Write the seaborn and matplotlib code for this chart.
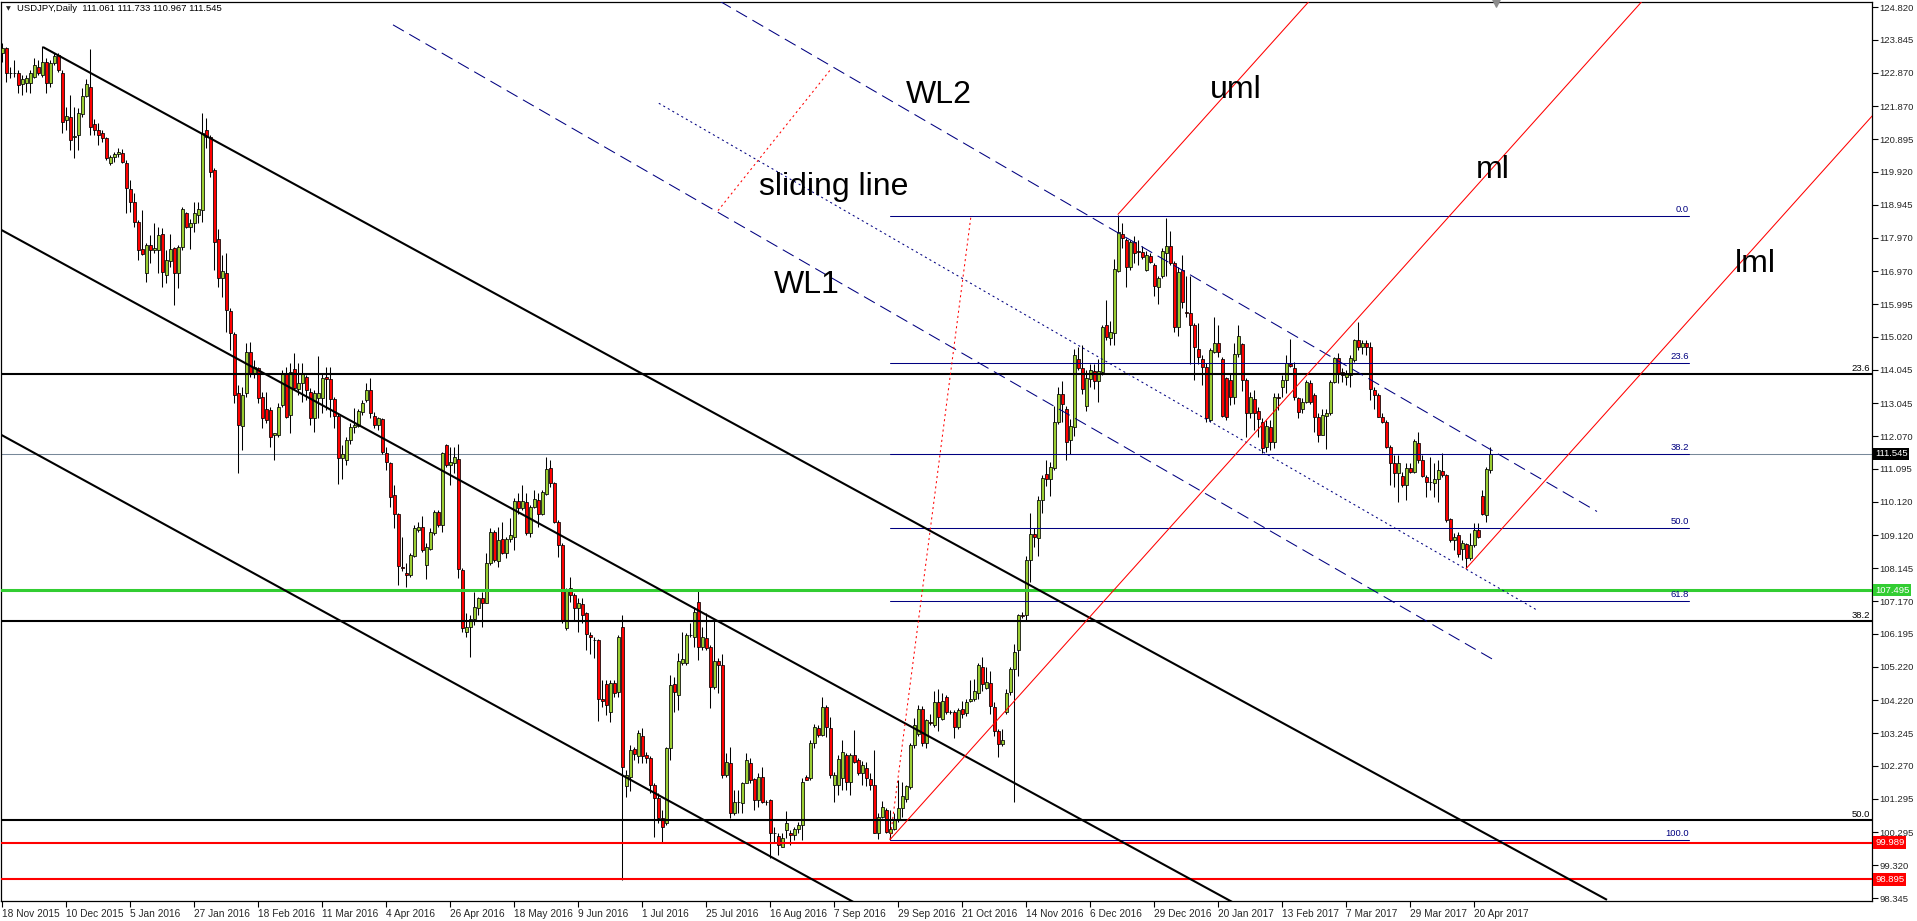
import numpy as np
import pandas as pd
import matplotlib
matplotlib.use("Agg")
import matplotlib.pyplot as plt
from matplotlib import transforms
import seaborn as sns

# daily USDJPY candles, 18 Nov 2015 .. 26 Apr 2017
opens = [
    123.44, 123.59, 122.85, 122.87, 122.85, 122.53, 122.55, 122.55, 122.75, 123.05,
    122.80, 123.20, 122.55, 123.17, 123.39, 122.85, 121.46, 121.56, 120.97, 121.02,
    121.64, 122.18, 122.45, 121.33, 121.18, 121.07, 120.92, 120.18, 120.35, 120.45,
    120.47, 120.19, 119.40, 119.04, 118.44, 117.62, 116.91, 117.75, 117.60, 117.60,
    118.08, 116.86, 117.28, 117.65, 116.91, 117.70, 118.69, 118.27, 118.41, 118.64,
    118.79, 121.18, 120.97, 119.98, 117.92, 116.76, 116.91, 115.80, 115.10, 113.34,
    112.37, 113.34, 114.58, 113.93, 114.08, 113.24, 112.89, 112.85, 112.10, 112.10,
    112.99, 113.93, 112.70, 114.05, 113.46, 113.64, 113.82, 113.39, 112.60, 113.19,
    113.19, 113.84, 113.76, 113.16, 112.67, 111.41, 111.36, 111.95, 112.35, 112.37,
    112.80, 113.14, 113.44, 112.67, 112.40, 112.57, 111.58, 111.28, 110.32, 109.77,
    108.17, 108.01, 107.93, 108.51, 109.28, 109.36, 108.24, 108.73, 109.18, 109.82,
    109.43, 111.81, 111.21, 111.28, 111.38, 108.09, 106.26, 106.41, 106.63, 106.95,
    107.25, 107.12, 108.31, 109.23, 108.37, 109.00, 108.60, 109.00, 109.08, 110.15,
    109.92, 110.12, 109.20, 109.97, 110.17, 109.75, 110.35, 111.11, 110.67, 109.53,
    108.83, 106.36, 107.57, 107.35, 106.95, 107.08, 106.80, 106.16, 106.02, 106.01,
    104.25, 104.70, 103.88, 104.72, 104.48, 106.41, 101.66, 101.95, 102.76, 102.55,
    103.16, 102.59, 102.50, 101.70, 101.31, 100.71, 100.58, 102.79, 104.70, 104.38,
    105.32, 105.34, 106.16, 106.11, 107.15, 105.81, 106.06, 105.81, 104.62, 105.40,
    105.27, 102.00, 102.37, 100.86, 101.21, 101.18, 101.75, 102.37, 101.87, 101.26,
    101.93, 101.21, 101.26, 100.29, 100.19, 99.87, 100.37, 100.29, 100.22, 100.39,
    100.51, 101.93, 101.90, 102.94, 103.39, 103.19, 104.03, 103.39, 101.70, 101.70,
    101.90, 102.59, 101.80, 102.59, 102.45, 102.05, 102.20, 101.87, 101.70, 100.29,
    100.76, 100.96, 100.29, 100.39, 100.66, 101.01, 101.30, 101.65, 102.89, 103.23,
    103.96, 102.94, 103.58, 103.49, 104.16, 103.65, 104.31, 103.88, 103.87, 103.43,
    103.96, 103.84, 104.19, 104.25, 104.44, 105.20, 104.59, 104.73, 104.03, 103.30,
    102.92, 103.87, 104.47, 105.14, 105.71, 106.75, 106.75, 108.40, 109.17, 109.04,
    110.16, 110.95, 110.79, 111.11, 112.50, 113.33, 112.89, 111.96, 112.34, 114.37,
    114.09, 112.95, 113.78, 113.99, 113.71, 113.97, 115.38, 114.98, 115.13, 116.98,
    118.09, 117.90, 117.08, 117.84, 117.58, 117.55, 117.01, 117.42, 117.14, 116.50,
    116.82, 117.52, 117.71, 117.20, 115.30, 117.01, 115.76, 115.72, 115.36, 114.66,
    114.35, 114.13, 112.55, 114.58, 114.83, 114.35, 113.79, 113.74, 113.22, 114.51,
    114.81, 113.74, 112.77, 113.16, 112.82, 112.50, 111.76, 112.35, 111.88, 113.22,
    113.52, 113.74, 114.21, 114.08, 113.19, 112.87, 113.09, 113.64, 113.29, 112.63,
    112.10, 112.67, 112.75, 113.69, 114.38, 113.98, 113.83, 113.88, 114.33, 114.93,
    114.73, 114.83, 114.73, 113.44, 113.29, 112.65, 112.50, 111.76, 111.26, 110.96,
    110.88, 110.62, 111.11, 111.01, 111.86, 111.36, 110.86, 110.72, 110.67, 110.79,
    111.04, 110.91, 109.60, 108.98, 109.13, 108.73, 108.86, 108.44, 108.83, 109.28,
    110.29, 109.72, 111.061,
]
highs = [
    123.75, 123.64, 123.05, 123.25, 122.95, 122.80, 122.80, 122.95, 123.30, 123.25,
    123.66, 123.30, 123.25, 123.44, 123.44, 122.95, 121.84, 122.20, 121.84, 121.81,
    122.40, 122.67, 123.56, 121.48, 121.36, 121.16, 120.97, 120.42, 120.52, 120.62,
    120.59, 120.27, 119.68, 119.28, 118.49, 118.79, 117.80, 118.05, 118.39, 118.29,
    118.24, 117.60, 118.09, 117.70, 117.75, 118.89, 118.74, 118.51, 119.04, 119.04,
    121.66, 121.51, 121.02, 120.03, 118.21, 117.45, 117.50, 115.87, 115.17, 113.59,
    113.54, 114.83, 114.88, 114.33, 114.13, 113.39, 113.39, 112.94, 112.15, 113.04,
    114.03, 114.13, 114.23, 114.53, 114.23, 114.23, 113.88, 113.49, 113.44, 114.45,
    113.95, 114.11, 114.11, 113.24, 112.75, 111.81, 112.05, 112.45, 112.90, 112.87,
    113.14, 113.64, 113.79, 112.80, 112.65, 112.60, 111.76, 111.31, 110.62, 109.79,
    109.08, 108.29, 108.59, 109.43, 109.53, 109.70, 108.88, 109.33, 109.87, 109.87,
    111.61, 111.85, 111.76, 111.74, 111.85, 108.14, 106.80, 106.75, 107.45, 107.30,
    107.45, 108.59, 109.33, 109.28, 109.38, 109.53, 109.08, 109.63, 110.22, 110.37,
    110.62, 110.37, 110.02, 110.47, 110.39, 110.47, 111.46, 111.36, 110.72, 109.58,
    108.88, 107.55, 107.87, 107.40, 107.25, 107.25, 106.85, 106.26, 106.11, 106.05,
    104.82, 104.82, 104.82, 104.82, 106.16, 106.75, 102.15, 102.89, 102.84, 103.34,
    103.39, 102.69, 102.55, 101.75, 101.46, 100.96, 102.84, 104.97, 104.92, 105.62,
    106.26, 106.21, 106.51, 107.00, 107.50, 106.41, 106.80, 105.86, 106.61, 105.47,
    105.60, 102.64, 102.84, 101.56, 101.56, 101.80, 102.64, 102.50, 101.90, 102.05,
    102.25, 101.26, 101.28, 100.46, 100.29, 100.27, 100.94, 100.37, 100.46, 100.61,
    101.90, 102.00, 103.04, 103.53, 103.49, 104.33, 104.08, 103.73, 102.10, 102.59,
    103.04, 102.64, 102.64, 103.34, 102.50, 102.42, 102.40, 102.05, 102.74, 100.86,
    101.24, 101.01, 100.96, 100.86, 101.85, 101.78, 101.71, 102.94, 103.68, 104.09,
    104.04, 103.65, 103.81, 104.50, 104.57, 104.44, 104.38, 103.93, 103.93, 104.00,
    104.19, 104.25, 104.82, 104.85, 105.33, 105.52, 105.20, 105.08, 104.16, 103.36,
    103.36, 104.57, 105.20, 105.90, 106.79, 106.85, 108.50, 109.78, 109.33, 110.28,
    110.92, 111.36, 111.30, 112.95, 113.52, 113.71, 112.95, 112.57, 114.66, 114.73,
    114.79, 114.03, 114.22, 114.22, 114.35, 115.36, 116.10, 115.49, 117.33, 118.63,
    118.41, 117.96, 117.90, 118.03, 117.90, 117.71, 117.58, 117.52, 117.20, 116.82,
    117.65, 118.56, 118.16, 117.27, 117.08, 117.46, 116.82, 116.82, 115.42, 115.42,
    114.48, 114.23, 114.68, 115.62, 115.37, 114.43, 113.83, 113.93, 114.83, 115.37,
    114.85, 113.79, 113.39, 113.44, 112.94, 112.60, 112.55, 112.55, 113.34, 113.34,
    113.88, 114.48, 114.95, 114.28, 113.24, 113.19, 113.74, 113.74, 113.34, 112.75,
    112.89, 112.89, 113.74, 114.43, 114.53, 114.08, 114.03, 114.48, 114.97, 115.47,
    114.93, 114.93, 114.88, 113.54, 113.34, 112.75, 112.55, 111.81, 111.51, 111.51,
    111.01, 111.26, 111.26, 111.97, 112.20, 111.51, 110.91, 111.46, 111.26, 111.36,
    111.56, 110.94, 109.63, 109.18, 109.23, 108.98, 108.88, 109.18, 109.48, 109.48,
    110.47, 111.16, 111.733,
]
lows = [
    123.20, 122.60, 122.70, 122.75, 122.26, 122.20, 122.30, 122.26, 122.70, 122.80,
    122.75, 122.27, 122.45, 123.10, 122.90, 121.07, 121.16, 120.57, 120.32, 120.57,
    121.56, 122.16, 121.02, 121.02, 120.72, 120.82, 120.27, 120.13, 120.22, 120.37,
    120.18, 118.69, 118.74, 118.29, 117.30, 117.45, 116.66, 117.22, 117.50, 116.91,
    116.51, 116.61, 117.10, 115.97, 116.46, 117.60, 118.24, 117.62, 118.14, 118.39,
    118.44, 120.62, 119.78, 117.00, 116.51, 116.21, 115.17, 114.63, 113.04, 110.98,
    111.66, 113.24, 113.83, 113.79, 113.04, 112.30, 112.45, 111.76, 111.36, 112.05,
    112.94, 112.60, 112.15, 113.44, 113.29, 113.09, 113.14, 112.40, 112.20, 112.60,
    112.75, 112.85, 112.63, 112.30, 110.65, 110.81, 111.21, 111.85, 112.15, 112.33,
    112.70, 113.09, 112.60, 112.30, 112.25, 111.54, 111.06, 109.95, 109.33, 107.64,
    108.07, 107.60, 107.89, 108.47, 109.23, 108.63, 107.81, 108.69, 109.13, 109.38,
    109.23, 111.16, 110.62, 110.96, 107.84, 106.26, 106.11, 105.51, 106.46, 106.75,
    106.41, 107.10, 108.24, 108.34, 108.19, 108.56, 108.44, 108.93, 108.69, 109.77,
    109.87, 109.13, 109.08, 109.92, 109.38, 109.72, 110.32, 110.57, 109.48, 108.49,
    106.51, 106.31, 107.15, 106.61, 106.26, 106.51, 105.71, 105.61, 105.47, 103.60,
    104.03, 103.78, 103.58, 104.33, 104.33, 98.88, 101.36, 101.51, 102.45, 102.35,
    102.35, 102.35, 101.46, 100.17, 100.56, 99.97, 100.51, 102.45, 103.88, 103.93,
    105.27, 105.27, 106.11, 105.81, 105.42, 105.71, 105.71, 103.98, 104.57, 104.43,
    101.90, 101.95, 100.71, 100.81, 100.86, 100.86, 101.75, 101.75, 100.96, 101.06,
    101.16, 101.11, 99.52, 100.02, 99.62, 99.87, 100.12, 99.92, 100.07, 100.27,
    100.07, 101.85, 101.85, 102.79, 103.14, 103.16, 103.14, 101.90, 101.21, 101.41,
    101.56, 101.56, 101.41, 102.35, 102.00, 101.70, 101.66, 101.56, 100.27, 100.09,
    100.71, 100.27, 100.07, 100.37, 100.61, 100.76, 101.20, 101.58, 102.79, 103.17,
    102.85, 102.79, 103.49, 103.43, 103.30, 103.62, 103.81, 103.81, 103.11, 103.36,
    103.68, 103.74, 104.16, 104.19, 104.25, 104.50, 104.57, 103.81, 103.17, 102.54,
    102.85, 103.81, 104.38, 101.20, 104.95, 106.66, 106.60, 107.74, 108.76, 108.50,
    109.78, 110.60, 110.28, 111.05, 112.44, 112.50, 111.36, 111.55, 112.06, 114.03,
    113.33, 112.82, 113.52, 113.46, 113.08, 113.90, 114.92, 114.79, 114.79, 116.95,
    117.65, 116.50, 117.01, 117.20, 117.14, 117.33, 116.98, 117.20, 116.22, 115.99,
    116.76, 116.82, 117.14, 115.17, 115.05, 115.87, 115.61, 114.22, 113.74, 114.22,
    113.59, 112.50, 112.50, 114.53, 114.43, 112.65, 112.55, 112.99, 113.02, 114.43,
    113.42, 112.05, 112.60, 112.25, 112.05, 111.56, 111.61, 111.66, 111.71, 112.84,
    113.24, 113.34, 114.13, 113.14, 112.60, 112.75, 113.04, 113.02, 112.20, 111.90,
    112.10, 111.68, 112.70, 113.64, 113.64, 113.69, 113.59, 113.54, 114.28, 114.63,
    114.51, 114.48, 113.14, 112.89, 112.63, 112.45, 111.73, 110.62, 110.57, 110.12,
    110.57, 110.17, 110.96, 110.96, 111.26, 110.86, 110.27, 110.47, 110.27, 110.12,
    110.86, 109.53, 108.93, 108.69, 108.49, 108.39, 108.14, 108.39, 108.78, 109.03,
    109.72, 109.53, 110.967,
]
closes = [
    123.59, 122.85, 122.87, 122.85, 122.50, 122.67, 122.70, 122.85, 123.10, 122.85,
    123.20, 122.55, 123.15, 123.36, 122.95, 121.41, 121.58, 120.87, 120.99, 121.68,
    122.18, 122.53, 121.26, 121.18, 121.02, 120.92, 120.32, 120.35, 120.45, 120.50,
    120.22, 119.43, 119.04, 118.44, 117.60, 117.47, 117.74, 117.60, 117.65, 118.05,
    116.94, 117.30, 117.62, 116.91, 117.70, 118.82, 118.27, 118.41, 118.69, 118.81,
    121.07, 120.97, 119.93, 117.85, 116.76, 116.99, 115.82, 115.12, 113.29, 112.40,
    113.29, 114.58, 113.93, 114.13, 113.19, 112.60, 112.55, 112.05, 112.15, 112.94,
    113.93, 112.65, 113.98, 113.49, 113.64, 113.93, 113.44, 112.60, 113.34, 113.34,
    113.79, 113.76, 113.16, 112.67, 111.41, 111.54, 111.95, 112.35, 112.40, 112.82,
    113.04, 113.44, 112.75, 112.40, 112.60, 111.61, 111.31, 110.27, 109.77, 108.21,
    108.14, 107.93, 108.54, 109.33, 109.38, 108.70, 108.78, 109.23, 109.82, 109.43,
    111.58, 111.21, 111.31, 111.46, 108.11, 106.36, 106.41, 106.63, 107.00, 107.25,
    107.12, 108.31, 109.23, 108.39, 108.98, 108.60, 109.00, 109.13, 110.15, 109.92,
    110.15, 109.20, 109.97, 110.19, 109.75, 110.42, 111.08, 110.67, 109.53, 108.83,
    106.61, 107.50, 107.35, 106.95, 107.10, 106.75, 106.19, 106.09, 106.00, 104.25,
    104.21, 104.08, 104.72, 104.43, 106.11, 102.25, 102.00, 102.74, 102.62, 103.24,
    102.55, 102.50, 101.70, 101.31, 100.71, 100.46, 102.79, 104.67, 104.48, 105.40,
    105.44, 106.16, 106.16, 106.85, 105.81, 106.11, 105.76, 104.60, 105.40, 105.27,
    102.00, 102.40, 100.86, 101.21, 101.19, 101.75, 102.45, 101.85, 101.26, 101.93,
    101.21, 101.19, 100.29, 100.27, 99.92, 100.12, 100.58, 100.22, 100.41, 100.51,
    101.80, 101.85, 102.94, 103.44, 103.19, 104.03, 103.44, 102.00, 102.00, 102.47,
    102.69, 101.80, 102.59, 102.40, 102.05, 102.30, 101.90, 101.70, 100.29, 100.76,
    101.04, 100.32, 100.39, 100.68, 101.01, 101.39, 101.67, 102.89, 103.49, 103.96,
    102.94, 103.62, 103.55, 104.16, 103.71, 104.21, 103.87, 103.86, 103.43, 103.93,
    103.81, 104.16, 104.25, 104.50, 105.27, 104.69, 104.76, 104.06, 103.30, 102.92,
    103.04, 104.44, 105.14, 105.65, 106.75, 106.71, 108.40, 109.17, 109.08, 110.16,
    110.82, 110.79, 111.14, 112.50, 113.33, 113.01, 111.90, 112.38, 114.47, 114.09,
    113.46, 113.81, 114.03, 113.71, 113.99, 115.30, 115.00, 115.17, 117.04, 118.13,
    117.95, 117.08, 117.84, 117.52, 117.54, 117.39, 117.46, 117.24, 116.53, 116.76,
    117.58, 117.71, 117.20, 115.30, 116.95, 116.06, 115.72, 115.36, 114.73, 114.41,
    114.13, 112.60, 114.63, 114.83, 114.58, 112.67, 112.65, 113.24, 114.51, 115.05,
    113.74, 112.77, 113.24, 112.77, 112.57, 111.71, 112.37, 111.90, 113.22, 113.19,
    113.74, 114.23, 114.15, 113.24, 112.80, 113.09, 113.69, 113.09, 112.63, 112.10,
    112.70, 112.77, 113.69, 114.38, 113.93, 113.88, 113.95, 114.38, 114.93, 114.73,
    114.83, 114.71, 113.46, 113.29, 112.65, 112.50, 111.76, 111.26, 110.96, 111.26,
    110.62, 111.11, 111.01, 111.93, 111.36, 110.88, 110.72, 110.70, 110.81, 111.06,
    110.91, 109.58, 108.98, 109.08, 108.56, 108.88, 108.44, 108.83, 109.28, 109.08,
    109.75, 111.08, 111.545,
]

date_labels = ["18 Nov 2015", "10 Dec 2015", "5 Jan 2016", "27 Jan 2016", "18 Feb 2016",
               "11 Mar 2016", "4 Apr 2016", "26 Apr 2016", "18 May 2016", "9 Jun 2016",
               "1 Jul 2016", "25 Jul 2016", "16 Aug 2016", "7 Sep 2016", "29 Sep 2016",
               "21 Oct 2016", "14 Nov 2016", "6 Dec 2016", "29 Dec 2016", "20 Jan 2017",
               "13 Feb 2017", "7 Mar 2017", "29 Mar 2017", "20 Apr 2017"]
label_step = 16

price_ticks = [124.820, 123.845, 122.870, 121.870, 120.895, 119.920, 118.945, 117.970,
               116.970, 115.995, 115.020, 114.045, 113.045, 112.070, 111.095, 110.120,
               109.120, 108.145, 107.170, 106.195, 105.220, 104.220, 103.245, 102.270,
               101.295, 100.295, 99.320, 98.345]

# horizontal levels
black_levels = [113.92, 106.57, 100.66]
black_level_names = ["23.6", "38.2", "50.0"]
green_level = 107.495
red_levels = [99.989, 98.895]
bid_price = 111.545

# fibonacci retracement (navy)
fib_names = ["0.0", "23.6", "38.2", "50.0", "61.8", "100.0"]
fib_prices = [118.62, 114.24, 111.54, 109.34, 107.17, 100.08]
fib_bars = [222, 421.75]

# descending black channel: [start bar, end bar], [start price, end price]
channel_bars = [[10.25, 401.25], [-1, 320], [-1, 230]]
channel_prices = [[123.63, 98.29], [118.25, 97.42], [112.16, 97.11]]

# blue warning lines and sliding line
wl_bars = [[179.5, 398.75], [164.2, 383.75], [97.75, 372.5]]
wl_prices = [[124.99, 109.83], [121.96, 106.90], [124.29, 105.45]]
wl_dotted = [False, True, False]

# pitchfork pivots A, B, C
pf_bars = [222, 279, 366]
pf_prices = [100.08, 118.66, 108.13]

# red dotted helper lines
red_dot_bars = [[222, 242.25], [179, 207.4]]
red_dot_prices = [[100.08, 118.62], [118.77, 123.00]]

labels_text = ["WL2", "sliding line", "WL1", "uml", "ml", "lml"]
labels_bar = [226, 189.25, 193, 302, 368.5, 433.25]
labels_price = [121.97, 119.23, 116.32, 122.12, 119.74, 116.95]

shift_bar = 373.5

sns.set_theme(style="white")
plt.rcParams['font.family'] = ['Liberation Sans', 'DejaVu Sans']

df = pd.DataFrame({"open": opens, "high": highs, "low": lows, "close": closes})
df["bar"] = np.arange(len(df))
df["up"] = df["close"] >= df["open"]
df["bottom"] = df[["open", "close"]].min(axis=1)
df["height"] = (df["close"] - df["open"]).abs().clip(lower=0.004)

W, H = 1917, 921
fig = plt.figure(figsize=(W / 100, H / 100), dpi=100)
fig.patch.set_facecolor("white")
ax = fig.add_axes([1 / W, 20 / H, 1871 / W, 899 / H])
ax.set_facecolor("white")

ax.vlines(df["bar"], df["low"], df["high"], color="black", lw=0.75, zorder=2)
ax.bar(df["bar"], df["height"], bottom=df["bottom"], width=0.75,
       color=np.where(df["up"], "#9ACD32", "#FF0000"), edgecolor="black",
       linewidth=0.55, zorder=3)

trans = transforms.blended_transform_factory(ax.transAxes, ax.transData)

ax.axhline(bid_price, color="#778899", lw=0.75, zorder=1)
for lvl, name in zip(black_levels, black_level_names):
    ax.axhline(lvl, color="black", lw=1.5, zorder=4)
    ax.text(0.999, lvl + 0.03, name, transform=trans, ha="right", va="bottom",
            fontsize=6.8, color="black", zorder=6)
ax.axhline(green_level, color="#32CD32", lw=2.2, zorder=4)
for lvl in red_levels:
    ax.axhline(lvl, color="#FF0000", lw=1.5, zorder=4)

for name, p in zip(fib_names, fib_prices):
    ax.plot(fib_bars, [p, p], color="#000080", lw=0.75, zorder=4)
    ax.text(fib_bars[1], p + 0.05, name, ha="right", va="bottom", fontsize=6.8,
            color="#000080", zorder=6)

for bx, py in zip(channel_bars, channel_prices):
    ax.plot(bx, py, color="black", lw=1.5, zorder=4, solid_capstyle="butt")

for bx, py, dotted in zip(wl_bars, wl_prices, wl_dotted):
    ax.plot(bx, py, color="#000080", lw=0.75, zorder=4,
            dashes=(2, 3) if dotted else (12, 6))

mid_bar = (pf_bars[1] + pf_bars[2]) / 2
mid_price = (pf_prices[1] + pf_prices[2]) / 2
pf_slope = (mid_price - pf_prices[0]) / (mid_bar - pf_bars[0])
end_bar = 470
for b, p in zip(pf_bars, pf_prices):
    ax.plot([b, end_bar], [p, p + pf_slope * (end_bar - b)], color="#FF0000",
            lw=0.75, zorder=4)

for bx, py in zip(red_dot_bars, red_dot_prices):
    ax.plot(bx, py, color="#FF0000", lw=0.75, dashes=(2, 3), zorder=4)

for t, b, p in zip(labels_text, labels_bar, labels_price):
    ax.text(b, p, t, fontsize=23, ha="left", va="baseline", color="black", zorder=7)

ax.set_xlim(-0.25, 467.5)
ax.set_ylim(98.256, 124.969)

ax.set_xticks(np.arange(len(date_labels)) * label_step)
ax.set_xticklabels(date_labels)
for lbl in ax.get_xticklabels():
    lbl.set_horizontalalignment("left")
ax.yaxis.tick_right()
ax.set_yticks(price_ticks)
ax.set_yticklabels([f"{v:.3f}" for v in price_ticks])
ax.tick_params(axis="x", direction="out", length=4, width=0.8, color="black",
               labelsize=7.3, pad=1.5, bottom=True)
ax.tick_params(axis="y", direction="out", length=4, width=0.8, color="black",
               labelsize=6.8, pad=1.5, right=True, left=False)
for s in ax.spines.values():
    s.set_color("black")
    s.set_linewidth(0.9)
ax.grid(False)

# price boxes on the axis
box_levels = [bid_price, green_level] + red_levels
box_colors = ["black", "#32CD32", "#FF0000", "#FF0000"]
for lvl, c in zip(box_levels, box_colors):
    ax.annotate(f"{lvl:.3f}", xy=(1, lvl), xycoords=trans, xytext=(2.2, 0),
                textcoords="offset points", ha="left", va="center", fontsize=6.8,
                color="white", annotation_clip=False, zorder=10,
                bbox=dict(boxstyle="square,pad=0.18", fc=c, ec="none"))

ax.scatter([shift_bar], [124.93], marker="v", s=28, color="#8C8C8C", clip_on=False,
           zorder=8)

fig.text(6 / W, 1 - 9 / H, "\u25bc", fontsize=4.5, va="center", ha="left",
         family=["DejaVu Sans"])
fig.text(17 / W, 1 - 8.5 / H,
         f"USDJPY,Daily  {opens[-1]:.3f} {highs[-1]:.3f} {lows[-1]:.3f} {closes[-1]:.3f}",
         fontsize=6.8, va="center", ha="left", color="black")

fig.savefig("out.png", dpi=100, facecolor="white")
